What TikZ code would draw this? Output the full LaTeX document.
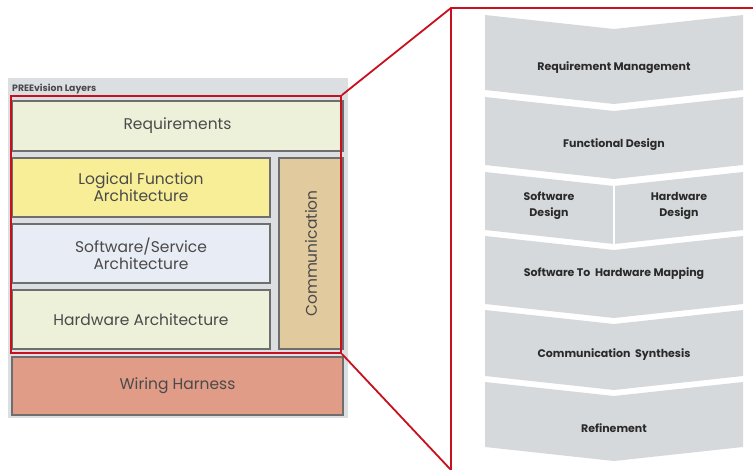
\documentclass[tikz,border=0pt]{standalone}
\usepackage{fontspec}
\setmainfont{Poppins}
\definecolor{bggray}{HTML}{DCDFE2}
\definecolor{boxline}{HTML}{6E6E6E}
\definecolor{reqfill}{HTML}{EEF1DA}
\definecolor{logfill}{HTML}{F8EE98}
\definecolor{swfill}{HTML}{E8ECF5}
\definecolor{comfill}{HTML}{E1CA9E}
\definecolor{wirefill}{HTML}{E09C86}
\definecolor{calloutred}{HTML}{C8101E}
\definecolor{chevgray}{HTML}{D6D9DC}
\definecolor{lefttext}{HTML}{4A4A4A}
\definecolor{righttext}{HTML}{2A2A2A}
\tikzset{
  layer/.style={draw=boxline, line width=1.1pt, inner sep=0pt, align=center,
    text=lefttext, font=\fontsize{15.5}{17}\selectfont},
  redline/.style={draw=calloutred, line width=1.8pt},
  chevshape/.style={fill=chevgray},
  chevtext/.style={text=righttext, align=center, font=\bfseries\fontsize{11}{16}\selectfont}
}
\newcommand\chevron[2]{%
  \fill[chevshape] (485,#1) -- (614,#1+14) -- (743,#1) -- (743,#2) -- (614,#2+14) -- (485,#2) -- cycle;}
\begin{document}
\begin{tikzpicture}[x=1pt,y=-1pt]
\useasboundingbox (0,0) rectangle (753,470);
\fill[white] (0,0) rectangle (753,470);
% left panel
\fill[bggray] (8,78) rectangle (348,418);
\node[anchor=west, inner sep=0pt, text=lefttext, font=\bfseries\fontsize{9.3}{10}\selectfont] (title) at (12,89) {PREEvision Layers};
\node[layer, fill=reqfill, minimum width=331pt, minimum height=50pt] (req) at (177.5,126) {Requirements};
\node[layer, fill=logfill, minimum width=258pt, minimum height=59pt] (log) at (141,187.5) {Logical Function\\Architecture};
\node[layer, fill=swfill, minimum width=258pt, minimum height=59pt] (sw) at (141,253.5) {Software/Service\\Architecture};
\node[layer, fill=reqfill, minimum width=258pt, minimum height=59pt] (hw) at (141,319.5) {Hardware Architecture};
\node[layer, fill=comfill, minimum width=64pt, minimum height=191pt] (com) at (311,253.5) {};
\node[text=lefttext, font=\fontsize{15.5}{17}\selectfont, rotate=90] (comtext) at (com.center) {Communication};
\node[layer, fill=wirefill, minimum width=331pt, minimum height=58pt] (wire) at (177.5,386) {Wiring Harness};
\node[redline, minimum width=330pt, minimum height=257pt, inner sep=0pt] (zoom) at (176,224.5) {};
% callout
\coordinate (ctop) at (451,8);
\coordinate (cright) at (753,8);
\coordinate (cbot) at (451,470);
\draw[redline, line join=miter] (zoom.north east) -- (ctop) -- (cright);
\draw[redline] (ctop) -- (cbot);
\draw[redline] (zoom.south east) -- (cbot);
% chevrons
\chevron{15}{90}
\chevron{97}{165}
\chevron{172}{230}
\draw[white, line width=2.5pt] (614,186) -- (614,244);
\chevron{236}{304}
\chevron{310}{376}
\chevron{382}{447}
\node[chevtext] (rm) at (614,68) {Requirement Management};
\node[chevtext] (fd) at (614,145) {Functional Design};
\node[chevtext] (sd) at (549,206) {Software\\Design};
\node[chevtext] (hd) at (679,206) {Hardware\\Design};
\node[chevtext] (map) at (614,274) {Software To\ \ Hardware Mapping};
\node[chevtext] (cs) at (614,355) {Communication\ \ Synthesis};
\node[chevtext] (ref) at (614,428) {Refinement};
\end{tikzpicture}
\end{document}
